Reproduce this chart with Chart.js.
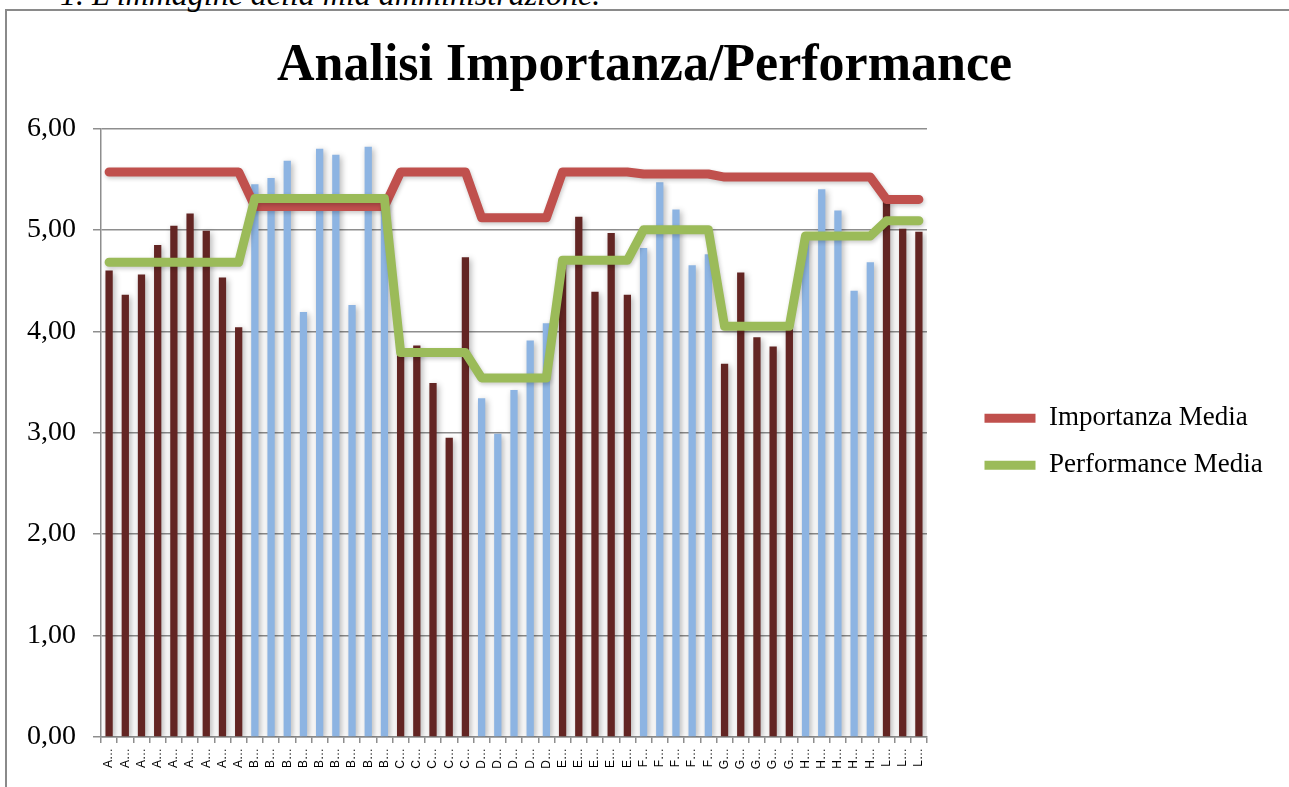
<!DOCTYPE html>
<html>
<head>
<meta charset="utf-8">
<script src="https://cdn.jsdelivr.net/npm/chart.js@4.4.1/dist/chart.umd.min.js"></script>
<style>
  html, body { margin: 0; padding: 0; background: #fff; overflow: hidden; }
  #wrap { position: absolute; left: 0; top: 0; width: 1289px; height: 787px; }
  #frame { position: absolute; left: 5px; top: 9px; width: 1300px; height: 900px; border: 2px solid #8a8a8a; box-sizing: border-box; }
  #caption { position: absolute; left: 60px; top: -22px; font-family: "Liberation Serif", serif; font-style: italic; font-size: 32px; line-height: 32px; white-space: nowrap; color: #000; }
  canvas { position: absolute; left: 0; top: 0; }
</style>
</head>
<body>
<div id="wrap">
  <div id="frame"></div>
  <div id="caption">1. L'immagine della mia amministrazione.</div>
  <canvas id="c" width="1289" height="787"></canvas>
</div>
<script>
// ---- data ----
const categories = [
  'A…','A…','A…','A…','A…','A…','A…','A…','A…',
  'B…','B…','B…','B…','B…','B…','B…','B…','B…',
  'C…','C…','C…','C…','C…',
  'D…','D…','D…','D…','D…',
  'E…','E…','E…','E…','E…',
  'F…','F…','F…','F…','F…',
  'G…','G…','G…','G…','G…',
  'H…','H…','H…','H…','H…',
  'L…','L…','L…'
];
const groupOrder = ['A','B','C','D','E','F','G','H','L'];

const itemValues = [
  4.60, 4.36, 4.56, 4.85, 5.04, 5.16, 4.99, 4.53, 4.04,
  5.45, 5.51, 5.68, 4.19, 5.80, 5.74, 4.26, 5.82, 5.25,
  3.80, 3.86, 3.49, 2.95, 4.73,
  3.34, 2.99, 3.42, 3.91, 4.08,
  4.72, 5.13, 4.39, 4.97, 4.36,
  4.82, 5.47, 5.20, 4.65, 4.76,
  3.68, 4.58, 3.94, 3.85, 4.05,
  4.95, 5.40, 5.19, 4.40, 4.68,
  5.28, 5.01, 4.98
];

const importanzaMedia = [
  5.57, 5.57, 5.57, 5.57, 5.57, 5.57, 5.57, 5.57, 5.57,
  5.23, 5.23, 5.23, 5.23, 5.23, 5.23, 5.23, 5.23, 5.23,
  5.57, 5.57, 5.57, 5.57, 5.57,
  5.12, 5.12, 5.12, 5.12, 5.12,
  5.57, 5.57, 5.57, 5.57, 5.57,
  5.55, 5.55, 5.55, 5.55, 5.55,
  5.52, 5.52, 5.52, 5.52, 5.52,
  5.52, 5.52, 5.52, 5.52, 5.52,
  5.30, 5.30, 5.30
];

const performanceMedia = [
  4.68, 4.68, 4.68, 4.68, 4.68, 4.68, 4.68, 4.68, 4.68,
  5.31, 5.31, 5.31, 5.31, 5.31, 5.31, 5.31, 5.31, 5.31,
  3.79, 3.79, 3.79, 3.79, 3.79,
  3.54, 3.54, 3.54, 3.54, 3.54,
  4.70, 4.70, 4.70, 4.70, 4.70,
  5.00, 5.00, 5.00, 5.00, 5.00,
  4.05, 4.05, 4.05, 4.05, 4.05,
  4.94, 4.94, 4.94, 4.94, 4.94,
  5.09, 5.09, 5.09
];

const yTickLabels = ['0,00','1,00','2,00','3,00','4,00','5,00','6,00'];
const seriesNames = ['Importanza Media', 'Performance Media'];
const chartTitle = 'Analisi Importanza/Performance';

// ---- styles ----
const DARK = '#632523', BLUE = '#8DB4E2', RED = '#C0504D', GREEN = '#9BBB59';
const GRID = '#8e8e8e';
const PLOT_RIGHT = 927, GAP_BEFORE_LEGEND = 37.5;
const barColors = categories.map(c => groupOrder.indexOf(c.charAt(0)) % 2 === 0 ? DARK : BLUE);

const shadowPlugin = {
  id: 'softShadow',
  beforeDatasetDraw(chart, args) {
    const ctx = chart.ctx;
    ctx.save();
    if (args.meta.type === 'bar') {
      ctx.shadowColor = 'rgba(0,0,0,0.30)';
      ctx.shadowBlur = 6;
      ctx.shadowOffsetX = 2;
      ctx.shadowOffsetY = 2;
    } else {
      ctx.shadowColor = 'rgba(0,0,0,0.22)';
      ctx.shadowBlur = 4;
      ctx.shadowOffsetX = 1;
      ctx.shadowOffsetY = 2;
    }
  },
  afterDatasetDraw(chart) { chart.ctx.restore(); }
};

new Chart(document.getElementById('c'), {
  data: {
    labels: categories,
    datasets: [
      {
        type: 'bar',
        label: 'Valori',
        data: itemValues,
        backgroundColor: barColors,
        borderWidth: 0,
        barPercentage: 0.45,
        categoryPercentage: 1.0,
        order: 3
      },
      {
        type: 'line',
        label: seriesNames[0],
        data: importanzaMedia,
        borderColor: RED,
        backgroundColor: RED,
        borderWidth: 9,
        borderCapStyle: 'round',
        borderJoinStyle: 'round',
        pointRadius: 0,
        tension: 0,
        fill: false,
        order: 2
      },
      {
        type: 'line',
        label: seriesNames[1],
        data: performanceMedia,
        borderColor: GREEN,
        backgroundColor: GREEN,
        borderWidth: 9,
        borderCapStyle: 'round',
        borderJoinStyle: 'round',
        pointRadius: 0,
        tension: 0,
        fill: false,
        order: 1
      }
    ]
  },
  options: {
    responsive: false,
    animation: false,
    layout: { padding: { left: 0, right: 0, top: 0, bottom: 0 } },
    plugins: {
      tooltip: { enabled: false },
      title: {
        display: true,
        text: chartTitle,
        color: '#000',
        font: { family: 'Liberation Serif', size: 52, weight: 'bold' },
        padding: { top: 35, bottom: 31 }
      },
      legend: {
        position: 'right',
        align: 'center',
        fullSize: false,
        maxWidth: 420,
        title: { display: true, text: ' ', padding: 0, font: { size: 15 } },
        labels: {
          usePointStyle: true,
          pointStyle: 'line',
          pointStyleWidth: 51,
          padding: 20,
          color: '#000',
          font: { family: 'Liberation Serif', size: 27 },
          filter: item => item.datasetIndex > 0,
          sort: (a, b) => a.datasetIndex - b.datasetIndex
        }
      }
    },
    scales: {
      x: {
        grid: { display: true, offset: true, drawOnChartArea: false, drawTicks: true, tickLength: 6, color: GRID, lineWidth: 1.5 },
        border: { display: true, color: GRID, width: 1.5 },
        ticks: {
          autoSkip: false, minRotation: 90, maxRotation: 90, padding: 5,
          color: '#000', font: { family: 'Liberation Sans', size: 12 }
        },
        afterFit(scale) { scale.height = 50; }
      },
      y: {
        min: 0, max: 6,
        grid: { color: GRID, lineWidth: 1.5, tickLength: 8 },
        border: { display: true, color: GRID, width: 1.5 },
        ticks: {
          stepSize: 1, padding: 17, color: '#000',
          font: { family: 'Liberation Serif', size: 28 },
          callback: (v) => yTickLabels[Math.round(v)]
        },
        afterFit(scale) { scale.width = 101; }
      },
      gapBeforeLegend: {
        position: 'right', display: true, weight: 1,
        grid: { display: false }, border: { display: false }, ticks: { display: false },
        afterFit(scale) { scale.width = GAP_BEFORE_LEGEND; }
      },
      gapAfterLegend: {
        position: 'right', display: true, weight: 2000,
        grid: { display: false }, border: { display: false }, ticks: { display: false },
        afterFit(scale) {
          const lg = scale.chart.legend;
          const lw = lg && lg.width ? lg.width : 308;
          scale.width = Math.max(0, scale.chart.width - PLOT_RIGHT - GAP_BEFORE_LEGEND - lw);
        }
      }
    }
  },
  plugins: [shadowPlugin]
});
</script>
</body>
</html>
